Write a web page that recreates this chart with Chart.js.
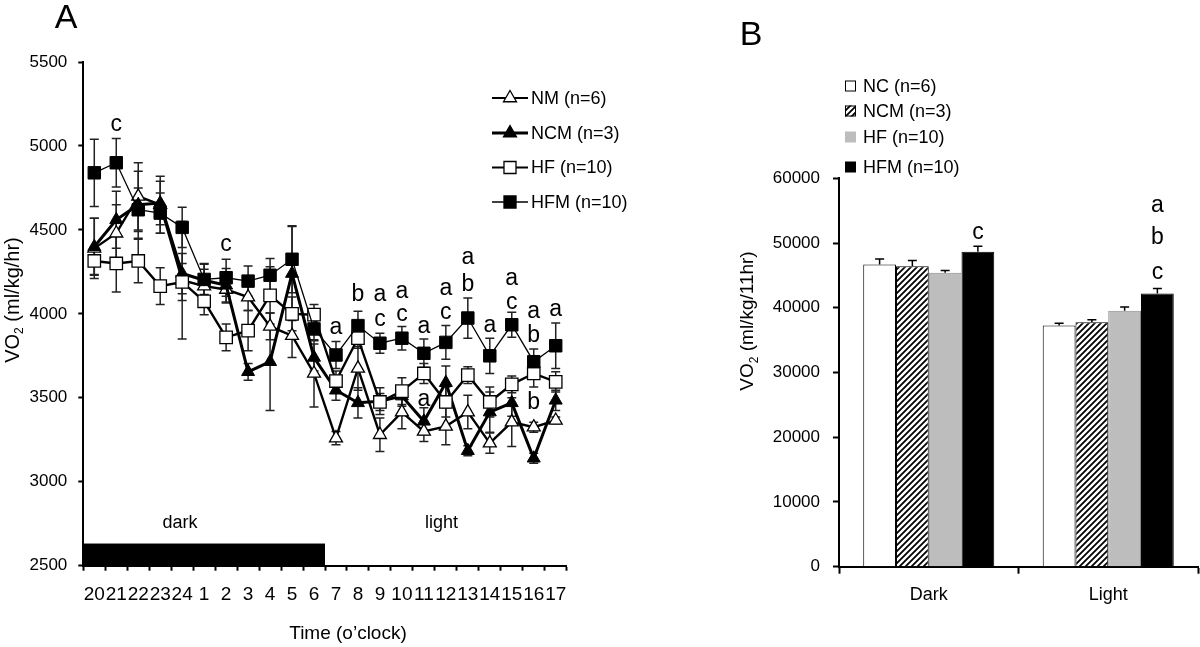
<!DOCTYPE html>
<html>
<head>
<meta charset="utf-8">
<script src="https://cdn.jsdelivr.net/npm/chart.js@4.4.1/dist/chart.umd.min.js"></script>
<style>
html,body{margin:0;padding:0;background:#fff;width:1200px;height:647px;overflow:hidden;}
#wrapA{position:absolute;left:0;top:0;width:640px;height:647px;}
#wrapB{position:absolute;left:740px;top:0;width:460px;height:647px;}
</style>
</head>
<body>
<div id="wrapA"><canvas id="cA" width="640" height="647"></canvas></div>
<div id="wrapB"><canvas id="cB" width="460" height="647"></canvas></div>
<script>
// ---------- Panel A data ----------
const hours = ['20','21','22','23','24','1','2','3','4','5','6','7','8','9','10','11','12','13','14','15','16','17'];
const nmVals  = [4390,4480,4700,4650,4200,4165,4145,4100,3925,3870,3645,3260,3675,3280,3415,3300,3330,3415,3230,3355,3325,3365];
const nmErr   = [180,170,200,170,350,100,80,80,80,130,200,40,130,100,100,60,110,100,60,145,30,20];
const ncmVals = [4400,4560,4650,4660,4240,4200,4170,3655,3715,4240,3740,3545,3470,3480,3510,3360,3590,3185,3415,3470,3140,3485];
const ncmErr  = [170,170,200,130,120,100,100,50,290,280,80,60,90,80,60,80,100,30,120,80,30,60];
const hfVals  = [4315,4300,4315,4165,4190,4075,3860,3900,4110,4000,3995,3600,3855,3475,3540,3645,3475,3635,3475,3580,3645,3595];
const hfErr   = [80,170,130,110,110,80,80,120,170,100,60,60,60,50,80,60,90,50,90,50,80,60];
const hfmVals = [4840,4900,4620,4600,4515,4205,4215,4195,4230,4325,3910,3755,3930,3825,3855,3765,3830,3975,3750,3935,3715,3810];
const hfmErr  = [200,145,130,120,120,90,110,90,100,200,70,80,85,60,70,85,100,120,105,75,75,135];
const seriesNamesA = ['NM (n=6)','NCM (n=3)','HF (n=10)','HFM (n=10)'];
// significance letters: category index, value, text
const lettersA = [
  [1,5125,'c'],[6,4411,'c'],
  [11,3915,'a'],[12,4113,'b'],[13,4113,'a'],[13,3964,'c'],[14,4133,'a'],[14,3994,'c'],
  [15,3925,'a'],[15,3488,'a'],[16,4153,'a'],[16,4008,'c'],[17,4332,'a'],[17,4173,'b'],
  [18,3929,'a'],[19,4212,'a'],[19,4067,'c'],[20,4014,'a'],[20,3869,'b'],[20,3472,'b'],[21,4024,'a']
];
const darkPhaseEnd = 10;     // last dark category index
const darkBarTop = 2632;

// ---------- Panel B data ----------
const periods = ['Dark','Light'];
const ncB  = [46700,37250];
const ncmB = [46400,37750];
const hfB  = [45400,39550];
const hfmB = [48650,42200];
const ncBErr  = [850,360];
const ncmBErr = [900,380];
const hfBErr  = [350,580];
const hfmBErr = [870,780];
const seriesNamesB = ['NC (n=6)','NCM (n=3)','HF (n=10)','HFM (n=10)'];
const lettersB = [[0,51600,'c'],[1,55750,'a'],[1,50850,'b'],[1,45450,'c']];

const FONT = "'Liberation Sans', Arial, Helvetica, sans-serif";

function drawMarker(ctx, style, x, y, r, fill) {
  ctx.save();
  ctx.beginPath();
  if (style === 'rect') {
    const s = r * Math.SQRT1_2;
    ctx.rect(x - s, y - s, 2 * s, 2 * s);
  } else {
    const h = r;
    ctx.moveTo(x, y - h);
    ctx.lineTo(x + h * Math.sin(Math.PI / 3), y + h * 0.5);
    ctx.lineTo(x - h * Math.sin(Math.PI / 3), y + h * 0.5);
    ctx.closePath();
  }
  ctx.fillStyle = fill;
  ctx.fill();
  ctx.lineWidth = 1.3;
  ctx.strokeStyle = '#000';
  ctx.stroke();
  ctx.restore();
}

function drawVO2Title(ctx, cx, cy, rest, size) {
  ctx.save();
  ctx.translate(cx, cy);
  ctx.rotate(-Math.PI / 2);
  ctx.fillStyle = '#000';
  ctx.textBaseline = 'middle';
  ctx.textAlign = 'left';
  ctx.font = size + 'px ' + FONT;
  const w1 = ctx.measureText('VO').width;
  const w3 = ctx.measureText(rest).width;
  ctx.font = Math.round(size * 0.62) + 'px ' + FONT;
  const w2 = ctx.measureText('2').width;
  const total = w1 + w2 + w3;
  let x0 = -total / 2;
  ctx.font = size + 'px ' + FONT;
  ctx.fillText('VO', x0, 0);
  ctx.font = Math.round(size * 0.62) + 'px ' + FONT;
  ctx.fillText('2', x0 + w1, size * 0.33);
  ctx.font = size + 'px ' + FONT;
  ctx.fillText(rest, x0 + w1 + w2, 0);
  ctx.restore();
}

function errBar(ctx, x, yTop, yBot, cap) {
  ctx.beginPath();
  ctx.moveTo(x, yTop); ctx.lineTo(x, yBot);
  ctx.moveTo(x - cap, yTop); ctx.lineTo(x + cap, yTop);
  ctx.moveTo(x - cap, yBot); ctx.lineTo(x + cap, yBot);
  ctx.stroke();
}

const plainNumber = v => String(v);

// ---------- Panel A ----------
const seriesA = [
  {vals: nmVals, err: nmErr},
  {vals: ncmVals, err: ncmErr},
  {vals: hfVals, err: hfErr},
  {vals: hfmVals, err: hfmErr}
];
const legendStylesA = [
  {style:'triangle', fill:'#fff', lw:2.2},
  {style:'triangle', fill:'#000', lw:3},
  {style:'rect', fill:'#fff', lw:2.2},
  {style:'rect', fill:'#000', lw:1.3}
];

const pluginA = {
  id: 'panelA',
  beforeDatasetsDraw(chart) {
    const ctx = chart.ctx, xs = chart.scales.x, ys = chart.scales.y;
    ctx.save();
    // dark phase bar
    const half = (xs.getPixelForValue(1) - xs.getPixelForValue(0)) / 2;
    const xEnd = xs.getPixelForValue(darkPhaseEnd) + half;
    const yT = ys.getPixelForValue(darkBarTop), yB = ys.getPixelForValue(ys.min);
    ctx.fillStyle = '#000';
    ctx.fillRect(xs.left, yT, xEnd - xs.left, yB - yT);
    // error bars
    ctx.strokeStyle = '#222';
    ctx.lineWidth = 1.5;
    seriesA.forEach(s => {
      s.vals.forEach((v, i) => {
        const px = xs.getPixelForValue(i);
        errBar(ctx, px, ys.getPixelForValue(v + s.err[i]), ys.getPixelForValue(v - s.err[i]), 4.5);
      });
    });
    ctx.restore();
  },
  afterDraw(chart) {
    const ctx = chart.ctx, xs = chart.scales.x, ys = chart.scales.y;
    ctx.save();
    ctx.fillStyle = '#000';
    ctx.textAlign = 'center';
    ctx.textBaseline = 'middle';
    ctx.font = '23px ' + FONT;
    lettersA.forEach(([i, v, t]) => ctx.fillText(t, xs.getPixelForValue(i), ys.getPixelForValue(v)));
    // phase labels
    ctx.font = '18px ' + FONT;
    ctx.fillText('dark', xs.getPixelForValue(3.9), ys.getPixelForValue(2752));
    ctx.fillText('light', xs.getPixelForValue(15.8), ys.getPixelForValue(2752));
    // axis title
    ctx.font = '19px ' + FONT;
    ctx.fillText('Time (o\u2019clock)', 348, 634);
    // panel letter
    ctx.font = '34px ' + FONT;
    ctx.fillText('A', 66, 19);
    // legend
    const ly = [98, 133, 167.5, 202];
    ctx.font = '18px ' + FONT;
    ctx.textAlign = 'left';
    seriesNamesA.forEach((name, k) => {
      const st = legendStylesA[k];
      ctx.strokeStyle = '#000';
      ctx.lineWidth = st.lw;
      ctx.beginPath(); ctx.moveTo(492, ly[k]); ctx.lineTo(528, ly[k]); ctx.stroke();
      drawMarker(ctx, st.style, 510, ly[k], st.style === 'rect' ? 8.5 : 7.5, st.fill);
      ctx.fillStyle = '#000';
      ctx.fillText(name, 531, ly[k] + 1);
    });
    ctx.restore();
    drawVO2Title(ctx, 13, 300, ' (ml/kg/hr)', 20);
  }
};

const tickFont = {family: FONT, size: 17};

new Chart(document.getElementById('cA'), {
  type: 'line',
  data: {
    labels: hours,
    datasets: [
      {label: seriesNamesA[3], data: hfmVals, borderColor: '#000', borderWidth: 1.3,
       pointStyle: 'rect', pointRadius: 8.8, pointBackgroundColor: '#000', pointBorderColor: '#000', pointBorderWidth: 1, order: 1},
      {label: seriesNamesA[2], data: hfVals, borderColor: '#000', borderWidth: 2.4,
       pointStyle: 'rect', pointRadius: 8.8, pointBackgroundColor: '#fff', pointBorderColor: '#000', pointBorderWidth: 1.3, order: 2},
      {label: seriesNamesA[1], data: ncmVals, borderColor: '#000', borderWidth: 3,
       pointStyle: 'triangle', pointRadius: 7.5, pointBackgroundColor: '#000', pointBorderColor: '#000', pointBorderWidth: 1, order: 3},
      {label: seriesNamesA[0], data: nmVals, borderColor: '#000', borderWidth: 2.4,
       pointStyle: 'triangle', pointRadius: 7.5, pointBackgroundColor: '#fff', pointBorderColor: '#000', pointBorderWidth: 1.3, order: 4}
    ]
  },
  options: {
    responsive: false,
    animation: false,
    events: [],
    plugins: {legend: {display: false}, tooltip: {enabled: false}},
    elements: {line: {tension: 0}},
    layout: {padding: {left: 0, top: 62, right: 73.3, bottom: 31.3}},
    scales: {
      x: {
        type: 'category',
        offset: true,
        grid: {offset: true, drawOnChartArea: false, drawTicks: true, tickLength: 5, tickColor: '#000', tickWidth: 2},
        border: {display: true, color: '#000', width: 2},
        ticks: {font: {family: FONT, size: 19}, color: '#000', padding: 13, maxRotation: 0, minRotation: 0, autoSkip: false},
        afterFit: s => { s.height = 50; }
      },
      y: {
        min: 2500, max: 5500,
        grid: {drawOnChartArea: false, drawTicks: true, tickLength: 5, tickColor: '#000', tickWidth: 2},
        border: {display: true, color: '#000', width: 2},
        ticks: {stepSize: 500, font: tickFont, color: '#000', padding: 11, callback: plainNumber},
        afterFit: s => { s.width = 83.3; }
      }
    }
  },
  plugins: [pluginA]
});

// ---------- Panel B ----------
function makeHatch() {
  const c = document.createElement('canvas');
  c.width = 6; c.height = 6;
  const g = c.getContext('2d');
  g.fillStyle = '#fff';
  g.fillRect(0, 0, 6, 6);
  g.strokeStyle = '#000';
  g.lineWidth = 1.8;
  g.beginPath();
  g.moveTo(-1, 7); g.lineTo(7, -1);
  g.moveTo(-4, 4); g.lineTo(4, -4);
  g.moveTo(2, 10); g.lineTo(10, 2);
  g.stroke();
  return g.createPattern(c, 'repeat');
}
const hatch = makeHatch();

const barFills = ['#fff', hatch, '#bdbdbd', '#000'];
const barBorders = ['#000', '#000', '#8a8a8a', '#000'];
const errB = [ncBErr, ncmBErr, hfBErr, hfmBErr];

const pluginB = {
  id: 'panelB',
  afterDatasetsDraw(chart) {
    const ctx = chart.ctx, ys = chart.scales.y;
    ctx.save();
    ctx.strokeStyle = '#000';
    ctx.lineWidth = 1.5;
    chart.data.datasets.forEach((ds, k) => {
      const meta = chart.getDatasetMeta(k);
      meta.data.forEach((bar, i) => {
        const v = ds.data[i];
        const yT = ys.getPixelForValue(v + errB[k][i]);
        const yB = ys.getPixelForValue(v);
        ctx.beginPath();
        ctx.moveTo(bar.x, yB); ctx.lineTo(bar.x, yT);
        ctx.moveTo(bar.x - 4.5, yT); ctx.lineTo(bar.x + 4.5, yT);
        ctx.stroke();
      });
    });
    ctx.restore();
  },
  afterDraw(chart) {
    const ctx = chart.ctx, ys = chart.scales.y;
    const meta = chart.getDatasetMeta(3);
    ctx.save();
    ctx.fillStyle = '#000';
    ctx.textAlign = 'center';
    ctx.textBaseline = 'middle';
    ctx.font = '23px ' + FONT;
    lettersB.forEach(([i, v, t]) => ctx.fillText(t, meta.data[i].x, ys.getPixelForValue(v)));
    ctx.font = '34px ' + FONT;
    ctx.fillText('B', 11, 36);
    // legend
    const ly = [86, 111, 137, 167];
    ctx.font = '18px ' + FONT;
    ctx.textAlign = 'left';
    seriesNamesB.forEach((name, k) => {
      ctx.fillStyle = barFills[k];
      ctx.fillRect(105, ly[k] - 5.5, 11, 11);
      if (k < 2) {
        ctx.strokeStyle = '#000';
        ctx.lineWidth = 1;
        ctx.strokeRect(105.5, ly[k] - 5, 10, 10);
      }
      ctx.fillStyle = '#000';
      ctx.fillText(name, 123, ly[k] + 1);
    });
    ctx.restore();
    drawVO2Title(ctx, 8, 321, ' (ml/kg/11hr)', 19);
  }
};

new Chart(document.getElementById('cB'), {
  type: 'bar',
  data: {
    labels: periods,
    datasets: [ncB, ncmB, hfB, hfmB].map((d, k) => ({
      label: seriesNamesB[k],
      data: d,
      backgroundColor: barFills[k],
      borderColor: barBorders[k],
      borderWidth: 1,
      categoryPercentage: 0.73,
      barPercentage: 1.0
    }))
  },
  options: {
    responsive: false,
    animation: false,
    events: [],
    plugins: {legend: {display: false}, tooltip: {enabled: false}},
    layout: {padding: {left: 0, top: 178.3, right: 2, bottom: 30.3}},
    scales: {
      x: {
        grid: {offset: true, drawOnChartArea: false, drawTicks: true, tickLength: 7, tickColor: '#000', tickWidth: 2},
        border: {display: true, color: '#000', width: 2},
        ticks: {font: {family: FONT, size: 18}, color: '#000', padding: 11},
        afterFit: s => { s.height = 50; }
      },
      y: {
        min: 0, max: 60000,
        grid: {drawOnChartArea: false, drawTicks: true, tickLength: 6, tickColor: '#000', tickWidth: 2},
        border: {display: true, color: '#000', width: 2},
        ticks: {stepSize: 10000, font: tickFont, color: '#000', padding: 13, callback: plainNumber},
        afterFit: s => { s.width = 99; }
      }
    }
  },
  plugins: [pluginB]
});
</script>
</body>
</html>
